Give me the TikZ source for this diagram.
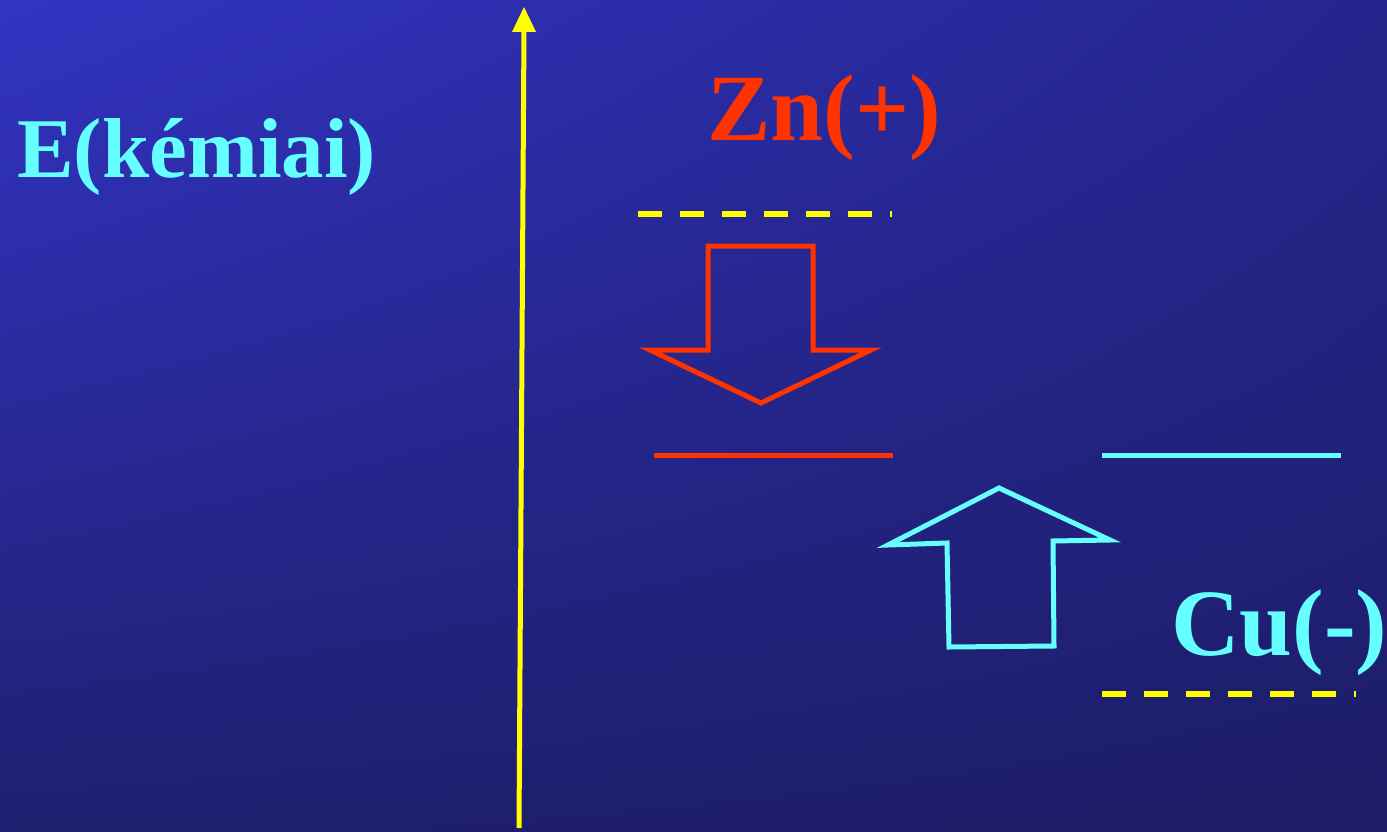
\documentclass[tikz,border=0pt]{standalone}
\usepackage{fontspec}
\setmainfont{Liberation Serif}
\usetikzlibrary{shadings}
\definecolor{bgA}{RGB}{50,52,195}
\definecolor{bgB}{RGB}{36,37,140}
\definecolor{bgC}{RGB}{31,31,112}
\definecolor{bgD}{RGB}{29,29,104}
\definecolor{zred}{RGB}{255,51,0}
\definecolor{ccyan}{RGB}{102,255,255}
\definecolor{ayel}{RGB}{255,255,0}
\begin{document}
\begin{tikzpicture}[x=1pt,y=-1pt,
  lvl/.style={line width=5pt},
  dashlvl/.style={ayel,line width=6pt,dash pattern=on 24pt off 18pt},
  bigarrow/.style={line width=5pt,line join=miter},
  lbl/.style={inner sep=0pt,anchor=base west,font=\bfseries}]
\shade[upper left=bgA,upper right=bgB,lower left=bgC,lower right=bgD] (0,0) rectangle (1387,832);
\useasboundingbox (0,0) rectangle (1387,832);
% energy axis
\coordinate (axb) at (519,828);
\coordinate (axt) at (524,28);
\draw[ayel,line width=5pt] (axb) -- (axt);
\fill[ayel] (512,32) -- (524,7) -- (536,32) -- cycle;
% labels
\node[lbl,ccyan,font=\bfseries\fontsize{85}{85}\selectfont] (E) at (17,178) {E(kémiai)};
\node[lbl,zred,font=\bfseries\fontsize{95}{95}\selectfont] (Zn) at (707,141) {Zn(+)};
\node[lbl,ccyan,font=\bfseries\fontsize{95}{95}\selectfont] (Cu) at (1171,655) {Cu(-)};
% dashed levels
\coordinate (d1a) at (638,214); \coordinate (d1b) at (892,214);
\draw[dashlvl] (d1a) -- (d1b);
\coordinate (d2a) at (1102,694); \coordinate (d2b) at (1356,694);
\draw[dashlvl] (d2a) -- (d2b);
% solid levels
\coordinate (r1) at (654,455); \coordinate (r2) at (893,455);
\draw[lvl,zred] (r1) -- (r2);
\coordinate (c1) at (1102,455); \coordinate (c2) at (1341,455);
\draw[lvl,ccyan] (c1) -- (c2);
% red down arrow
\draw[bigarrow,zred] (708,246) -- (813,246) -- (813,350) -- (871,350) -- (761,403) -- (650,350) -- (708,350) -- cycle;
% cyan up arrow
\draw[bigarrow,ccyan] (949,647) -- (1054,646) -- (1053,541) -- (1110,540) -- (999,488) -- (888,545) -- (947,543) -- cycle;
\end{tikzpicture}
\end{document}
